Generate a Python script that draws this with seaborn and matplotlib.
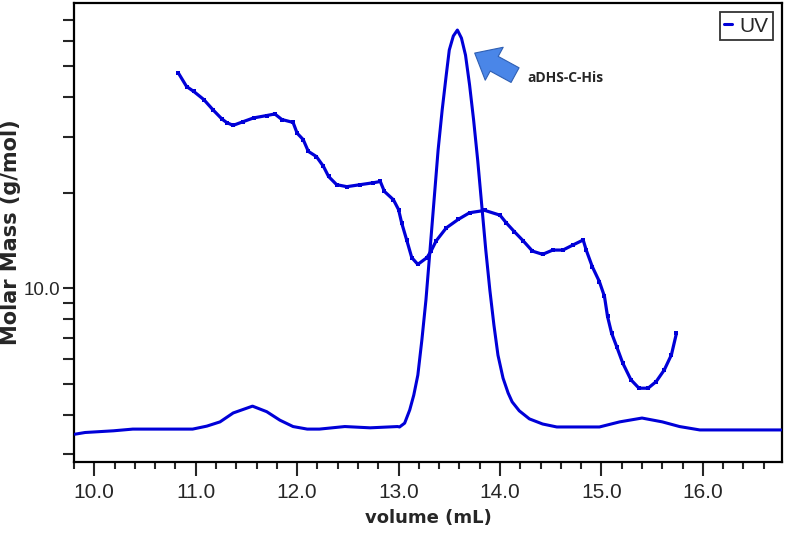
import numpy as np
import pandas as pd
import matplotlib
matplotlib.use('Agg')
import matplotlib.pyplot as plt
import seaborn as sns
from matplotlib.ticker import LogLocator, FuncFormatter, NullFormatter, MultipleLocator

# UV trace (relative units, peak = 1)
uv_volume = [9.81, 9.91, 10.19, 10.38, 10.97, 11.11, 11.24, 11.37, 11.56, 11.70, 11.83, 11.96, 12.10,
             12.22, 12.47, 12.72, 12.99, 13.01, 13.06, 13.11, 13.15, 13.19, 13.23, 13.27, 13.31,
             13.35, 13.39, 13.43, 13.47, 13.50, 13.54, 13.58, 13.62, 13.66, 13.70, 13.74, 13.78,
             13.82, 13.86, 13.90, 13.94, 13.98, 14.03, 14.08, 14.12, 14.19, 14.29, 14.42, 14.56,
             14.98, 15.18, 15.40, 15.60, 15.77, 15.97, 16.77]
uv_signal = [0.049, 0.053, 0.057, 0.061, 0.061, 0.068, 0.078, 0.099, 0.115, 0.102, 0.082, 0.067, 0.061,
             0.061, 0.067, 0.064, 0.067, 0.066, 0.075, 0.106, 0.141, 0.188, 0.271, 0.365, 0.482,
             0.600, 0.718, 0.812, 0.894, 0.953, 0.986, 1.000, 0.981, 0.941, 0.871, 0.788, 0.694,
             0.588, 0.482, 0.388, 0.306, 0.235, 0.181, 0.146, 0.125, 0.104, 0.085, 0.073, 0.066,
             0.066, 0.078, 0.087, 0.078, 0.067, 0.059, 0.059]

# molar mass trace
mass_volume = [10.83, 10.91, 10.98, 11.08, 11.17, 11.26, 11.31, 11.37, 11.47, 11.57, 11.70, 11.78,
               11.85, 11.96, 12.00, 12.06, 12.11, 12.19, 12.26, 12.31, 12.39, 12.49, 12.62, 12.75,
               12.82, 12.86, 12.95, 13.00, 13.03, 13.08, 13.13, 13.19, 13.28, 13.32, 13.37, 13.47,
               13.59, 13.70, 13.85, 14.00, 14.06, 14.14, 14.23, 14.32, 14.42, 14.52, 14.62, 14.72,
               14.82, 14.85, 14.91, 14.98, 15.03, 15.06, 15.10, 15.15, 15.21, 15.29, 15.37, 15.46,
               15.54, 15.62, 15.69, 15.74]
mass_value = [47.6, 43.2, 41.7, 39.3, 36.5, 34.1, 33.2, 32.6, 33.5, 34.4, 35.0, 35.4,
              34.0, 33.3, 30.8, 29.4, 27.0, 26.0, 24.2, 22.5, 21.2, 20.9, 21.2, 21.5,
              21.7, 20.2, 19.0, 17.7, 16.1, 14.2, 12.5, 11.9, 12.5, 13.1, 14.1, 15.5,
              16.5, 17.3, 17.6, 17.0, 16.1, 15.1, 14.1, 13.1, 12.8, 13.2, 13.2, 13.7,
              14.2, 13.2, 11.7, 10.5, 9.43, 8.16, 7.23, 6.56, 5.82, 5.16, 4.85, 4.85,
              5.09, 5.54, 6.18, 7.23]

blue = '#0000d8'
tick_font = ['Liberation Sans Narrow', 'Liberation Sans', 'DejaVu Sans']

sns.set_style('ticks')
plt.rcParams['font.family'] = ['DejaVu Sans']

fig = plt.figure(figsize=(7.86, 5.36), dpi=100)
ax = fig.add_axes([0.0941, 0.138, 0.9008, 0.8563])

sns.lineplot(x=mass_volume, y=mass_value, ax=ax, color=blue, lw=2.3, marker='s',
             markersize=2.8, markeredgewidth=0, estimator=None, sort=False)
ax.set_yscale('log')
ax.set_ylim(2.84, 79.1)
ax.set_xlim(9.80, 16.78)

ax2 = ax.twinx()
sns.lineplot(x=uv_volume, y=uv_signal, ax=ax2, color=blue, lw=2.2, label='UV',
             estimator=None, sort=False)
ax2.set_ylim(-0.0165, 1.0635)
ax2.set_yticks([])
ax2.set_ylabel('')
for s in ax2.spines.values():
    s.set_visible(False)

ax.xaxis.set_major_locator(MultipleLocator(1.0))
ax.xaxis.set_minor_locator(MultipleLocator(0.2))
ax.xaxis.set_major_formatter(FuncFormatter(lambda v, p: f'{v:.1f}'))
ax.yaxis.set_major_locator(LogLocator(base=10))
ax.yaxis.set_minor_locator(LogLocator(base=10, subs=np.arange(2, 10)))
ax.yaxis.set_major_formatter(FuncFormatter(lambda v, p: f'{v:.1f}'))
ax.yaxis.set_minor_formatter(NullFormatter())

ax.tick_params(axis='x', which='major', direction='out', length=10, width=1.5, pad=5)
ax.tick_params(axis='x', which='minor', direction='out', length=5, width=1.5)
ax.tick_params(axis='y', which='both', direction='out', length=8, width=1.5, pad=2)
for lab in ax.get_xticklabels():
    lab.set_family(tick_font)
    lab.set_fontsize(15)
for lab in ax.get_yticklabels():
    lab.set_family(tick_font)
    lab.set_fontsize(13.5)

for s in ax.spines.values():
    s.set_visible(True)
    s.set_linewidth(1.6)
    s.set_color('black')

ax.set_xlabel('volume (mL)', fontsize=13, fontweight='bold', labelpad=5)
ax.set_ylabel('Molar Mass (g/mol)', fontsize=15, fontweight='bold')
ax.yaxis.set_label_coords(-0.075, 0.5)

leg = ax2.legend(loc='upper right', frameon=True, fancybox=False, edgecolor='black',
                 handlelength=0.4, borderpad=0.2, handletextpad=0.35,
                 borderaxespad=0.45, prop={'family': tick_font, 'size': 15})
leg.get_frame().set_linewidth(1.3)

ax.annotate('', xy=(0.566, 0.891), xycoords='axes fraction',
            xytext=(0.623, 0.843), textcoords='axes fraction',
            arrowprops=dict(arrowstyle='simple,head_length=0.8,head_width=1.35,tail_width=0.6',
                            fc='#4a86e8', ec='#2f5fb3', lw=0.8, shrinkA=0, shrinkB=0,
                            mutation_scale=20))
ax.text(0.640, 0.837, 'aDHS-C-His', transform=ax.transAxes, fontsize=10,
        fontweight='bold', va='center', ha='left', family=['Open Sans', 'DejaVu Sans'])

fig.savefig('out.png', dpi=100)
